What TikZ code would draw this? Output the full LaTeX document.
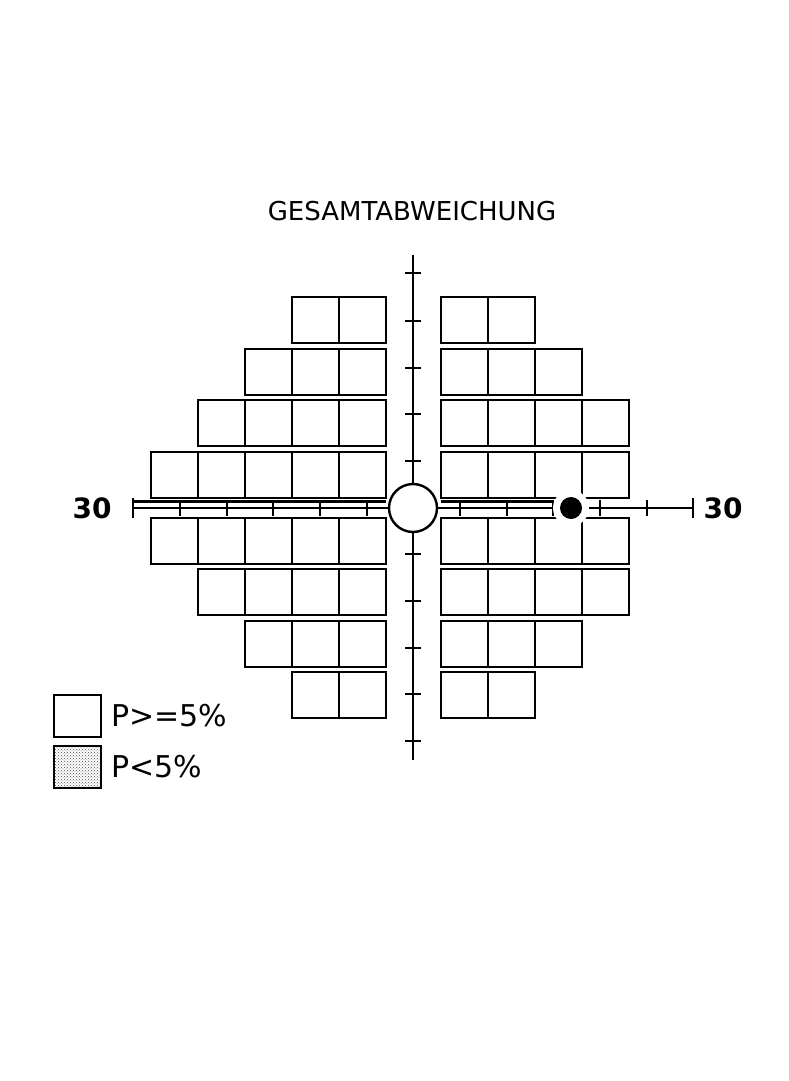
\documentclass[tikz,border=0pt]{standalone}
\usepackage{fontspec}
\setmainfont{DejaVu Sans}
\usetikzlibrary{patterns}
\begin{document}
\begin{tikzpicture}[x=1pt,y=-1pt,line width=2.4pt,
  cell/.style={draw,black,fill=white},
  lbl/.style={font=\fontsize{30}{30}\selectfont,anchor=west,inner sep=0}]
\useasboundingbox (0,0) rectangle (789,1081);
\node (title) at (412,211) {\fontsize{26}{26}\selectfont GESAMTABWEICHUNG};
% rows: top y, left start x, right end x
\foreach \ty/\lx/\rx in {297/292/535,349/245/582,400/198/629,452/151/629,518/151/629,569/198/629,621/245/582,672/292/535}{
  \pgfmathsetmacro\by{\ty+46}
  \foreach \x in {\lx,...,386}{}
  \pgfmathtruncatemacro\nl{(386-\lx)/47}
  \foreach \i in {1,...,\nl}{\draw[cell] ({386-47*\i},\ty) rectangle ({386-47*(\i-1)},\by);}
  \pgfmathtruncatemacro\nr{(\rx-441)/47}
  \foreach \i in {1,...,\nr}{\draw[cell] ({441+47*(\i-1)},\ty) rectangle ({441+47*\i},\by);}
}
% horizontal axis
\draw[white,line width=10pt] (133,506) -- (693,506);
\draw (133,508) -- (693,508);
\draw (133,501.5) -- (386,501.5);
\draw (441,501.5) -- (553,501.5);
\draw[white,line width=5pt] (413,255) -- (413,760);
\draw (413,255) -- (413,760);
\foreach \x in {180,227,273,320,367,460,507,553,600,647}{\draw (\x,500) -- (\x,516);}
\draw (133,498) -- (133,518);
\draw (693,498) -- (693,518);
\foreach \y in {273,321,368,414,461,554,601,648,694,741}{\draw (405,\y) -- (421,\y);}
\node[circle,draw,fill=white,minimum size=48pt,inner sep=0] (c) at (413,508) {};
\fill[white] (571,508) circle (18);
\node[circle,fill=black,minimum size=22pt,inner sep=0] (d) at (571,508) {};
\node[font=\bfseries\fontsize{28}{28}\selectfont] (l) at (92,508) {30};
\node[font=\bfseries\fontsize{28}{28}\selectfont] (r) at (723,508) {30};
% legend
\draw[cell] (54,695) rectangle (101,737);
\draw[fill=white] (54,746) rectangle (101,788);
\fill[pattern=crosshatch dots,pattern color=black!70] (54,746) rectangle (101,788);
\draw (54,746) rectangle (101,788);
\node[lbl] (p1) at (110,716) {P>=5\%};
\node[lbl] (p2) at (110,767) {P<5\%};
\end{tikzpicture}
\end{document}
